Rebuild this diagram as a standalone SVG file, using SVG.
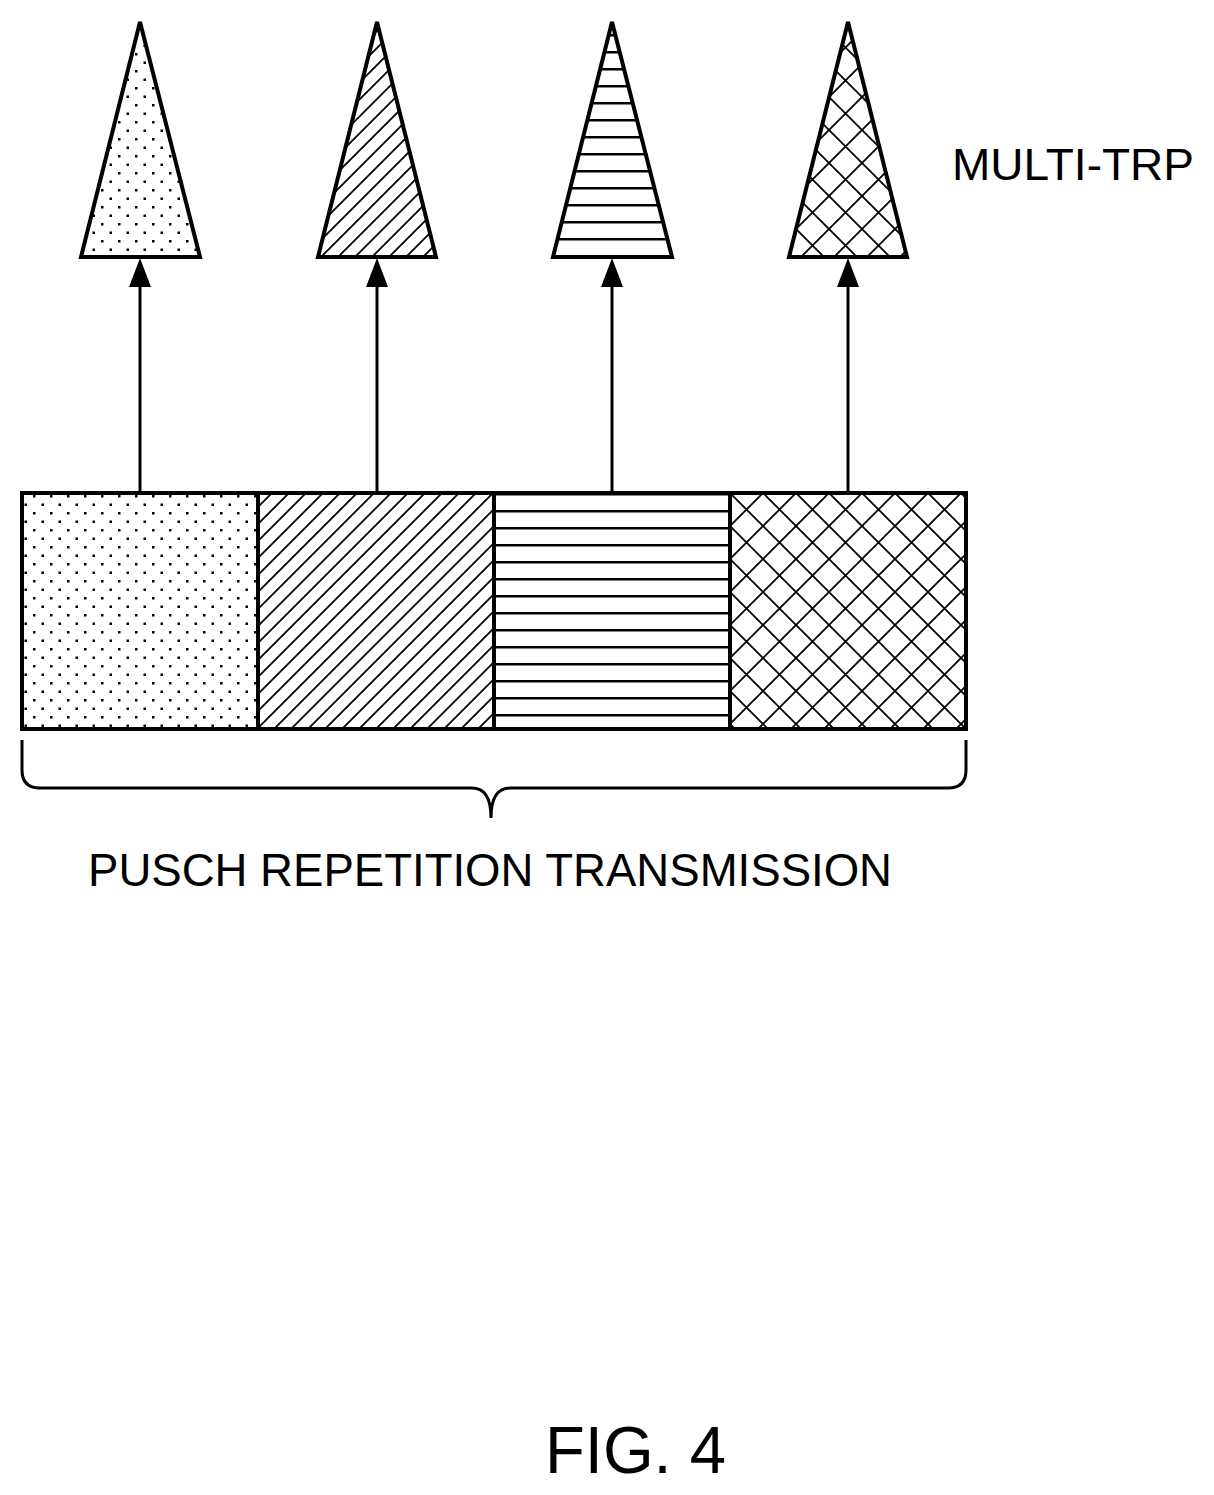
<svg xmlns="http://www.w3.org/2000/svg" width="1214" height="1495" viewBox="0 0 1214 1495">
<style>
.o{stroke:#000;stroke-width:4;fill:none}
.t{font-family:"Liberation Sans",Arial,sans-serif;fill:#000}
</style>
<defs>
<pattern id="dots" width="17" height="17" patternUnits="userSpaceOnUse" x="22" y="493">
<rect x="11" y="2" width="2.5" height="2.5" fill="#000"/><rect x="2.5" y="10.5" width="2.5" height="2.5" fill="#000"/>
</pattern>
<pattern id="diag" width="17" height="17" patternUnits="userSpaceOnUse">
<path d="M0 17L17 0M-2 2L2 -2M15 19L19 15" stroke="#000" stroke-width="1.8"/>
</pattern>
<pattern id="hor" width="17" height="17" patternUnits="userSpaceOnUse" y="493">
<rect x="0" y="0" width="17" height="2.5" fill="#000"/>
</pattern>
<pattern id="cross" width="33" height="33" patternUnits="userSpaceOnUse" x="730" y="493">
<path d="M0 0L33 33M33 0L0 33" stroke="#000" stroke-width="1.8"/>
</pattern>
</defs>
<rect width="1214" height="1495" fill="#fff"/>
<g id="trp1"><path d="M140 22L81 257H200Z" style="fill:url(#dots)" class="o"/></g>
<g id="trp2"><path d="M377 22L318 257H436Z" style="fill:url(#diag)" class="o"/></g>
<g id="trp3"><path d="M612 22L553 257H672Z" style="fill:url(#hor)" class="o"/></g>
<g id="trp4"><path d="M848 22L789 257H907Z" style="fill:url(#cross)" class="o"/></g>
<g id="rep1"><rect x="22" y="493" width="236" height="236" style="fill:url(#dots)" class="o"/></g>
<g id="rep2"><rect x="258" y="493" width="236" height="236" style="fill:url(#diag)" class="o"/></g>
<g id="rep3"><rect x="494" y="493" width="236" height="236" style="fill:url(#hor)" class="o"/></g>
<g id="rep4"><rect x="730" y="493" width="236" height="236" style="fill:url(#cross)" class="o"/></g>
<g id="connectors">
<path class="o" d="M140 493V285M377 493V285M612 493V285M848 493V285" style="stroke-width:3"/>
<path d="M140 258L129 287H151ZM377 258L366 287H388ZM612 258L601 287H623ZM848 258L837 287H859Z" fill="#000"/>
</g>
<g id="brace"><path class="o" d="M22 740V770Q22 788 40 788H472Q491 788 491 818Q491 788 510 788H948Q966 788 966 770V740" style="stroke-width:3"/></g>
<text class="t" x="952" y="180" font-size="44" textLength="242" lengthAdjust="spacingAndGlyphs">MULTI-TRP</text>
<text class="t" x="88" y="886" font-size="46" textLength="804" lengthAdjust="spacingAndGlyphs">PUSCH REPETITION TRANSMISSION</text>
<text class="t" x="545" y="1473" font-size="67" textLength="181" lengthAdjust="spacingAndGlyphs">FIG. 4</text>
</svg>
